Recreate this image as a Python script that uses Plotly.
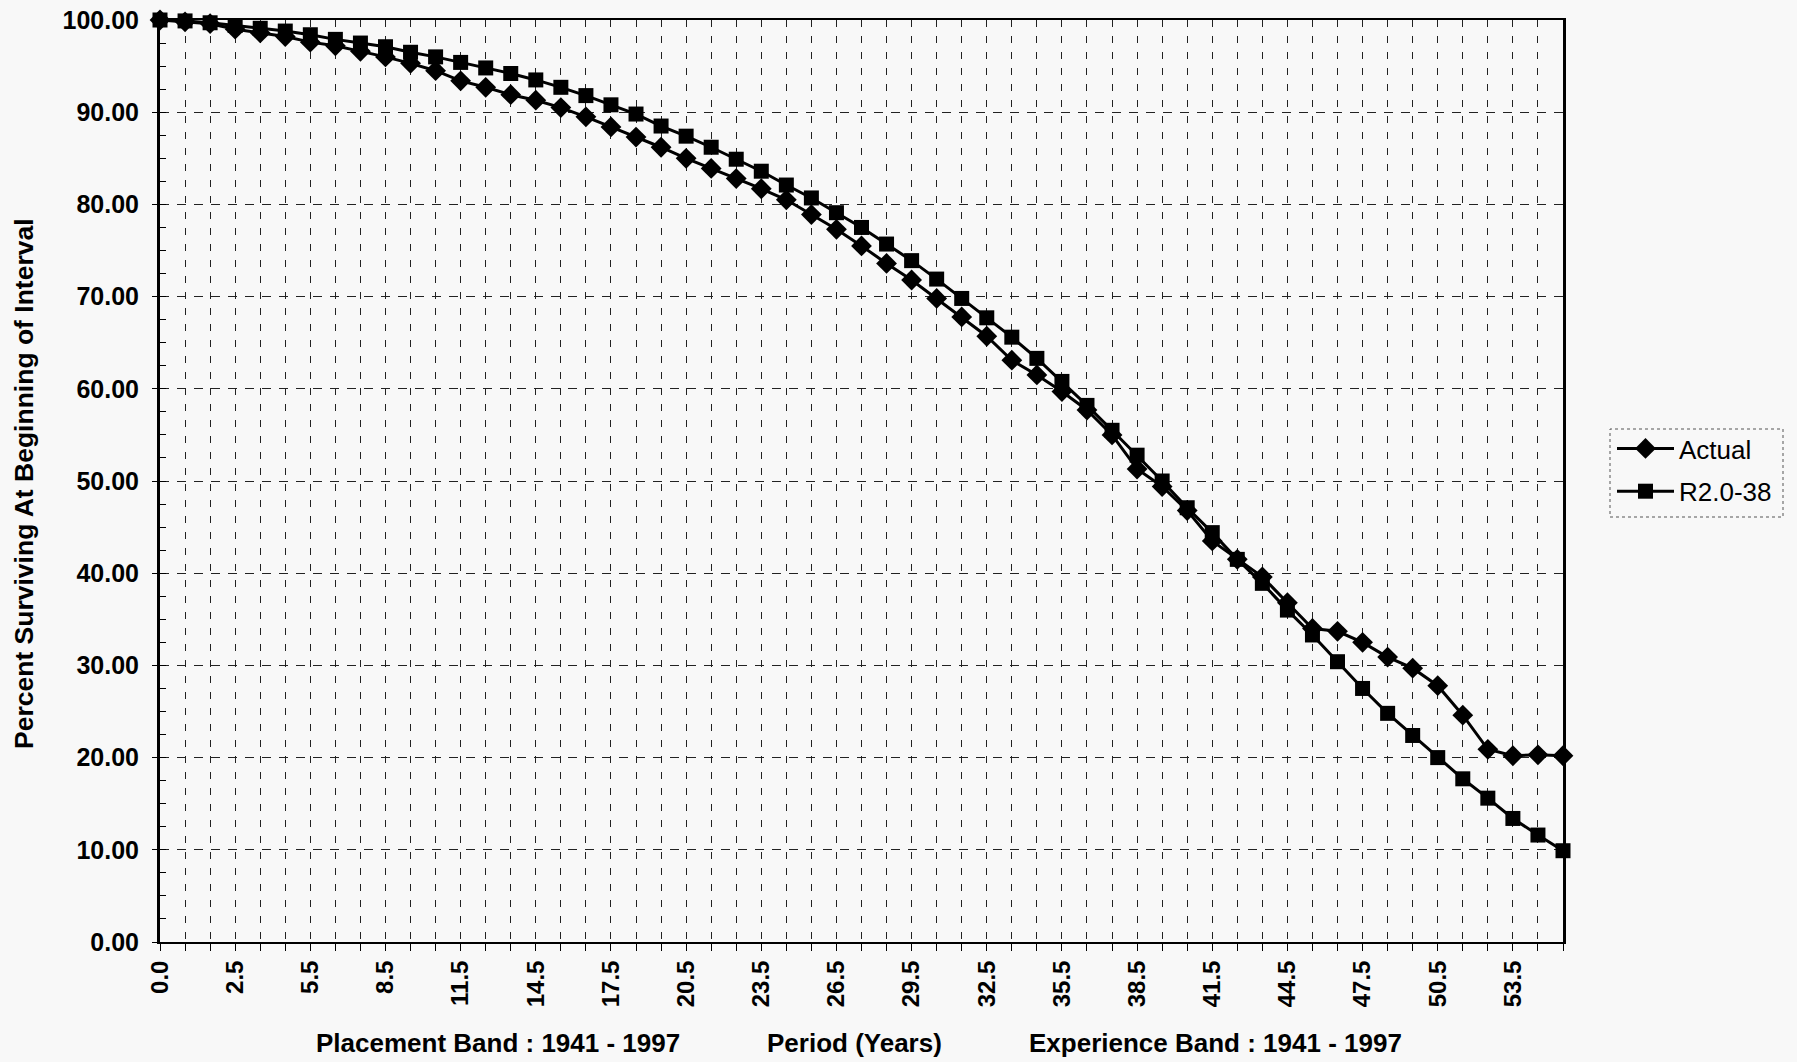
import plotly.graph_objects as go

# Category labels (Period in years)
periods = ["0.0"] + [f"{k}.5" for k in range(0, 56)]

actual = [100.0, 99.8, 99.6, 99.0, 98.6, 98.2, 97.6, 97.2, 96.6, 96.0,
          95.3, 94.5, 93.4, 92.7, 91.9, 91.3, 90.5, 89.5, 88.4, 87.3,
          86.2, 85.0, 83.9, 82.8, 81.7, 80.5, 78.9, 77.3, 75.5, 73.6,
          71.8, 69.8, 67.8, 65.7, 63.1, 61.5, 59.7, 57.7, 55.0, 51.3,
          49.4, 46.8, 43.5, 41.5, 39.6, 36.8, 34.0, 33.7, 32.5, 30.9,
          29.7, 27.8, 24.6, 20.9, 20.2, 20.3, 20.2]

r20_38 = [100.0, 99.9, 99.7, 99.4, 99.1, 98.8, 98.4, 97.9, 97.5, 97.1,
          96.5, 96.0, 95.4, 94.8, 94.2, 93.5, 92.7, 91.8, 90.8, 89.8,
          88.5, 87.4, 86.2, 84.9, 83.6, 82.1, 80.7, 79.1, 77.5, 75.7,
          73.9, 71.9, 69.8, 67.7, 65.6, 63.3, 60.8, 58.2, 55.5, 52.8,
          50.0, 47.1, 44.4, 41.5, 38.9, 36.0, 33.3, 30.4, 27.5, 24.8,
          22.4, 20.0, 17.7, 15.6, 13.4, 11.6, 9.9]

tick_step = 3
x_idx = list(range(len(periods)))
tick_idx = x_idx[::tick_step]
tick_txt = periods[::tick_step]

FONT = "Liberation Sans, Arial, sans-serif"
BG = "#f8f8f8"

fig = go.Figure()
fig.add_trace(go.Scatter(
    x=x_idx, y=actual, name="Actual", mode="lines+markers", legendgroup="a",
    line=dict(color="black", width=3),
    marker=dict(symbol="diamond", size=16, color="black"),
    cliponaxis=False))
fig.add_trace(go.Scatter(
    x=x_idx, y=r20_38, name="R2.0-38", mode="lines+markers", legendgroup="b",
    line=dict(color="black", width=3),
    marker=dict(symbol="square", size=15, color="black"),
    cliponaxis=False))

L, R, T, B = 160, 234, 20, 120
W, H = 1797, 1062
pw, ph = W - L - R, H - T - B

def px_x(x):
    return (x - L) / pw

def px_y(y):
    return (H - B - y) / ph

fig.update_layout(
    width=W, height=H,
    margin=dict(l=L, r=R, t=T, b=B, pad=0, autoexpand=False),
    paper_bgcolor=BG, plot_bgcolor=BG,
    font=dict(family=FONT, color="black"),
    showlegend=True,
    legend=dict(x=px_x(1612), y=px_y(425),
                xanchor="left", yanchor="top",
                bgcolor="rgba(0,0,0,0)", font=dict(size=26, family=FONT),
                tracegroupgap=6, itemwidth=57),
)

fig.update_xaxes(
    automargin=False,
    range=[0, len(periods) - 1],
    tickmode="array", tickvals=tick_idx, ticktext=tick_txt,
    tickangle=-90, tickfont=dict(size=24, family=FONT, weight="bold"),
    ticks="outside", ticklen=7, tickcolor="black",
    showline=True, linecolor="black", linewidth=2, mirror=True,
    showgrid=True, gridcolor="#222", gridwidth=1, griddash="7px,9px",
    minor=dict(dtick=1, tick0=0, ticks="outside", ticklen=7, tickcolor="black",
               showgrid=True, gridcolor="#222", gridwidth=1, griddash="7px,9px"),
    zeroline=False,
)
fig.update_yaxes(
    automargin=False,
    range=[0, 100], dtick=10, tickformat=".2f",
    tickfont=dict(size=25, family=FONT, weight="bold"),
    ticks="outside", ticklen=5, tickcolor="black", ticklabelstandoff=8,
    showline=True, linecolor="black", linewidth=3, mirror=True,
    showgrid=True, gridcolor="#222", gridwidth=1, griddash="9px,8px",
    minor=dict(dtick=2.5, ticks="inside", ticklen=6, tickcolor="black", showgrid=False),
    zeroline=False,
)

# Y axis title
fig.add_annotation(text="Percent Surviving At Beginning of Interval",
                   xref="paper", yref="paper", x=px_x(24), y=px_y(484),
                   xanchor="center", yanchor="middle", textangle=-90,
                   showarrow=False,
                   font=dict(size=26.5, family=FONT, weight="bold"))

# Legend dotted frame
fig.add_shape(type="rect", xref="paper", yref="paper",
              x0=px_x(1610), x1=px_x(1783),
              y0=px_y(517), y1=px_y(429),
              line=dict(color="#555", width=1, dash="dot"))

# Bottom axis caption pieces
for txt, cx in [("Placement Band : 1941 - 1997", 498),
                ("Period (Years)", 854),
                ("Experience Band : 1941 - 1997", 1215)]:
    fig.add_annotation(text=txt, xref="paper", yref="paper",
                       x=px_x(cx), y=px_y(1043),
                       xanchor="center", yanchor="middle", showarrow=False,
                       font=dict(size=26, family=FONT, weight="bold"))

fig.write_html("out.html", config={"displayModeBar": False},
               post_script="document.body.style.margin='0px';")
